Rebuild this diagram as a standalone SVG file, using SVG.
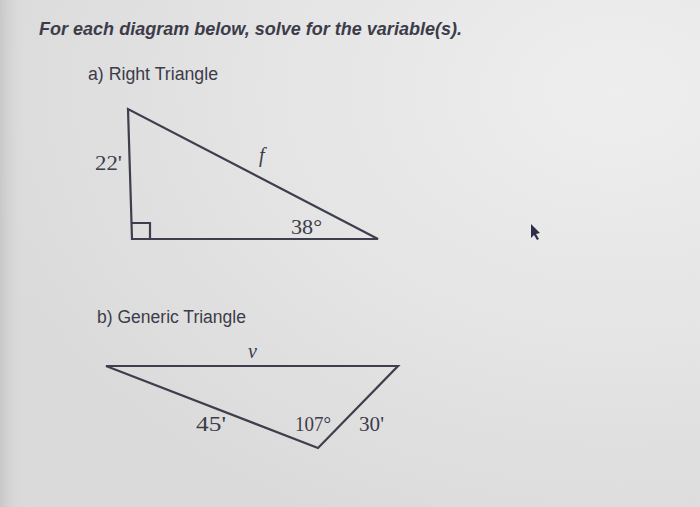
<svg xmlns="http://www.w3.org/2000/svg" width="700" height="507" viewBox="0 0 700 507">
<defs>
<radialGradient id="bg" cx="0.88" cy="0.18" r="0.95">
<stop offset="0" stop-color="#eeeeee"/>
<stop offset="0.5" stop-color="#e5e5e5"/>
<stop offset="1" stop-color="#dadada"/>
</radialGradient>
<linearGradient id="edge" x1="0" y1="0" x2="1" y2="0">
<stop offset="0" stop-color="#c8c8c8"/>
<stop offset="0.04" stop-color="#e0e0e0" stop-opacity="0"/>
<stop offset="1" stop-color="#e0e0e0" stop-opacity="0"/>
</linearGradient>
</defs>
<style>
.sans{font-family:"Liberation Sans",Arial,sans-serif;fill:#3c3c4a}
.serif{font-family:"Liberation Serif","Times New Roman",serif;fill:#3c3c4a;font-size:20px}
.edge{fill:none;stroke:#3e3e4e;stroke-width:2.2;stroke-linejoin:miter}
</style>
<rect width="700" height="507" fill="url(#bg)"/>
<rect width="700" height="507" fill="url(#edge)"/>
<text class="sans" x="39" y="35" font-size="18" font-weight="bold" font-style="italic" textLength="423" lengthAdjust="spacingAndGlyphs">For each diagram below, solve for the variable(s).</text>
<text class="sans" x="88" y="80" font-size="18" textLength="130" lengthAdjust="spacingAndGlyphs">a) Right Triangle</text>
<g id="triangle-a">
<polygon class="edge" points="128,109 132,239 378,239"/>
<polyline class="edge" points="132,223 150,223 150,239" stroke-width="1.8"/>
<text class="serif" x="95" y="170" textLength="27" lengthAdjust="spacingAndGlyphs">22'</text>
<text class="serif" x="259" y="162" font-style="italic">f</text>
<text class="serif" x="291" y="234" textLength="31" lengthAdjust="spacingAndGlyphs">38°</text>
</g>
<text class="sans" x="97" y="323" font-size="18" textLength="149" lengthAdjust="spacingAndGlyphs">b) Generic Triangle</text>
<g id="triangle-b">
<polygon class="edge" points="106,366 398,366 318,448"/>
<text class="serif" x="248" y="358" font-style="italic" font-size="16">v</text>
<text class="serif" x="196" y="431" textLength="30" lengthAdjust="spacingAndGlyphs">45'</text>
<text class="serif" x="295" y="431" textLength="36" lengthAdjust="spacingAndGlyphs">107°</text>
<text class="serif" x="359" y="431" textLength="25" lengthAdjust="spacingAndGlyphs">30'</text>
</g>
<polygon points="531,224 531,238 534,235 537,240 539,239 536,234 540,233" fill="#2e2e4a"/>
</svg>
